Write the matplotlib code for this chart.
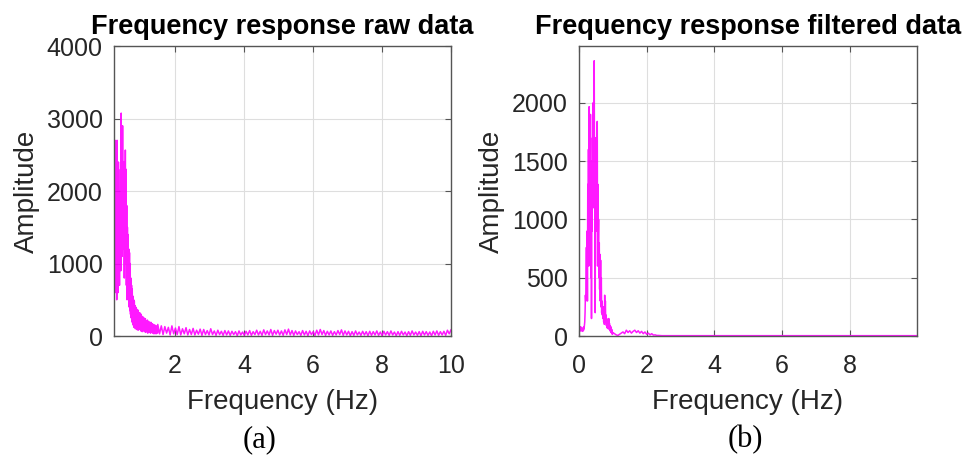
import numpy as np
import matplotlib.pyplot as plt

# raw spectrum, 0.23-1.49 Hz in 0.01 Hz bins
raw_low = [300, 1500, 700, 2700, 600, 1800, 900, 2200,
           500, 2700, 800, 1900, 600, 2400, 1000, 1700, 700, 2000,
           1200, 2300, 900, 3075, 1300, 2600, 1100, 2900, 1500, 2000,
           1200, 2400, 800, 2100, 1300, 2565, 1000, 2300, 700, 1800,
           500, 1500, 600, 1400, 800, 1200, 400, 1150, 350, 1000,
           300, 800, 250, 700, 200, 650, 180, 550, 150, 500,
           120, 480, 150, 420, 100, 400, 140, 380, 90, 350,
           130, 360, 80, 330, 120, 300, 90, 320, 100, 280,
           70, 300, 110, 260, 60, 270, 100, 240, 80, 250,
           60, 230, 90, 240, 50, 210, 80, 200, 60, 220,
           40, 190, 70, 200, 50, 180, 60, 170, 40, 190,
           50, 160, 60, 170, 40, 150, 50, 160, 30, 140,
           50, 150, 40, 140, 30, 130, 50, 140, 40]
# raw spectrum, 1.5-10 Hz in 0.05 Hz bins
raw_high = [160, 30, 140, 20, 130, 40, 120, 15, 140, 30,
            110, 20, 130, 15, 100, 30, 115, 15, 90, 20,
            105, 15, 80, 25, 95, 10, 90, 20, 75, 15,
            100, 20, 70, 10, 80, 20, 65, 10, 75, 15,
            70, 10, 65, 20, 60, 5, 70, 15, 55, 10,
            65, 15, 75, 10, 60, 20, 80, 15, 65, 10,
            85, 20, 70, 15, 90, 10, 75, 25, 80, 15,
            70, 10, 85, 20, 95, 15, 75, 10, 70, 20,
            60, 10, 75, 15, 65, 5, 70, 20, 60, 10,
            80, 15, 90, 20, 75, 10, 65, 15, 70, 10,
            60, 15, 75, 20, 85, 10, 70, 15, 65, 5,
            60, 10, 70, 15, 55, 10, 65, 15, 60, 5,
            65, 10, 60, 15, 70, 10, 55, 5, 65, 15,
            60, 10, 70, 15, 55, 5, 60, 10, 65, 15,
            55, 5, 60, 10, 70, 15, 55, 10, 60, 5,
            65, 15, 60, 10, 55, 5, 65, 15, 70, 10,
            60, 15, 65, 10, 80, 30, 85]

# filtered spectrum, 0-1.0 Hz in 0.01 Hz bins
filt_low = [2400, 60, 40, 70, 50, 80, 45, 60, 50, 70,
            40, 55, 65, 45, 80, 60, 90, 120, 200, 350,
            300, 500, 760, 400, 900, 300, 1300, 700, 1600, 600,
            1966, 800, 1700, 1200, 1900, 500, 1500, 150, 1400, 900,
            1700, 1300, 2000, 1100, 1800, 2360, 1200, 1600, 200, 1700,
            1100, 1500, 900, 1700, 1840, 600, 1300, 800, 1000, 500,
            800, 400, 700, 300, 650, 250, 500, 200, 300, 180,
            220, 150, 250, 120, 200, 100, 350, 150, 300, 120,
            180, 90, 150, 70, 140, 80, 130, 60, 150, 70,
            110, 50, 90, 40, 80, 30, 60, 20, 50, 15, 30]
# filtered spectrum, 1.05-2.5 Hz in 0.05 Hz bins
filt_mid = [20, 10, 5, 15, 25, 35, 20, 50, 30, 45,
            25, 40, 50, 30, 45, 25, 40, 20, 35, 15,
            25, 10, 20, 8, 10, 5, 5, 4, 3, 3]
# filtered spectrum tail, 3-10 Hz
filt_tail = [3, 3, 3, 3, 3, 3, 3, 3]

freq_raw = np.concatenate([np.linspace(0.23, 1.49, len(raw_low)),
                           np.linspace(1.5, 10.0, len(raw_high))])
amp_raw = np.array(raw_low + raw_high)
freq_filt = np.concatenate([np.linspace(0.0, 1.0, len(filt_low)),
                            np.linspace(1.05, 2.5, len(filt_mid)),
                            np.linspace(3.0, 10.0, len(filt_tail))])
amp_filt = np.array(filt_low + filt_mid + filt_tail)

plt.rcParams['font.family'] = ['Liberation Sans', 'DejaVu Sans']
grey = '#262626'
magenta = '#ff00ff'

fig = plt.figure(figsize=(9.69, 4.61), dpi=100)
ax1 = fig.add_axes([0.1176, 0.2711, 0.3478, 0.629])
ax2 = fig.add_axes([0.5975, 0.2711, 0.3488, 0.629])


def style(ax):
    ax.grid(True, color='#dedede', linewidth=0.8)
    ax.set_axisbelow(True)
    for s in ax.spines.values():
        s.set_color('#555555')
        s.set_linewidth(1.0)
    ax.tick_params(direction='in', length=4, colors='#555555',
                   labelcolor=grey, labelsize=18, top=True, right=True)
    ax.set_xlabel('Frequency (Hz)', fontsize=20, color=grey, labelpad=8)
    ax.set_ylabel('Amplitude', fontsize=20, color=grey, labelpad=5)


ax1.plot(freq_raw, amp_raw, color=magenta, linewidth=1.1, alpha=0.9)
ax1.set_xlim(0.23, 10)
ax1.set_ylim(0, 4000)
ax1.set_xticks([2, 4, 6, 8, 10])
ax1.set_yticks([0, 1000, 2000, 3000, 4000])
style(ax1)
ax1.tick_params(axis='y', pad=8)
ax1.tick_params(axis='x', pad=13)
ax1.set_title('Frequency response raw data', fontsize=19.5, fontweight='bold', pad=9)

ax2.plot(freq_filt, amp_filt, color=magenta, linewidth=1.1, alpha=0.9)
ax2.set_xlim(0, 9.99)
ax2.set_ylim(0, 2486)
ax2.set_xticks([0, 2, 4, 6, 8])
ax2.set_yticks([0, 500, 1000, 1500, 2000])
style(ax2)
ax2.tick_params(axis='y', pad=8)
ax2.tick_params(axis='x', pad=13)
ax2.set_title('Frequency response filtered data', fontsize=19.5, fontweight='bold', pad=9)

fig.text(0.268, 0.047, '(a)', fontsize=22, family='Liberation Serif',
         ha='center', va='center', color='black')
fig.text(0.769, 0.047, '(b)', fontsize=22, family='Liberation Serif',
         ha='center', va='center', color='black')

fig.savefig('out.png', dpi=100, facecolor='white')
